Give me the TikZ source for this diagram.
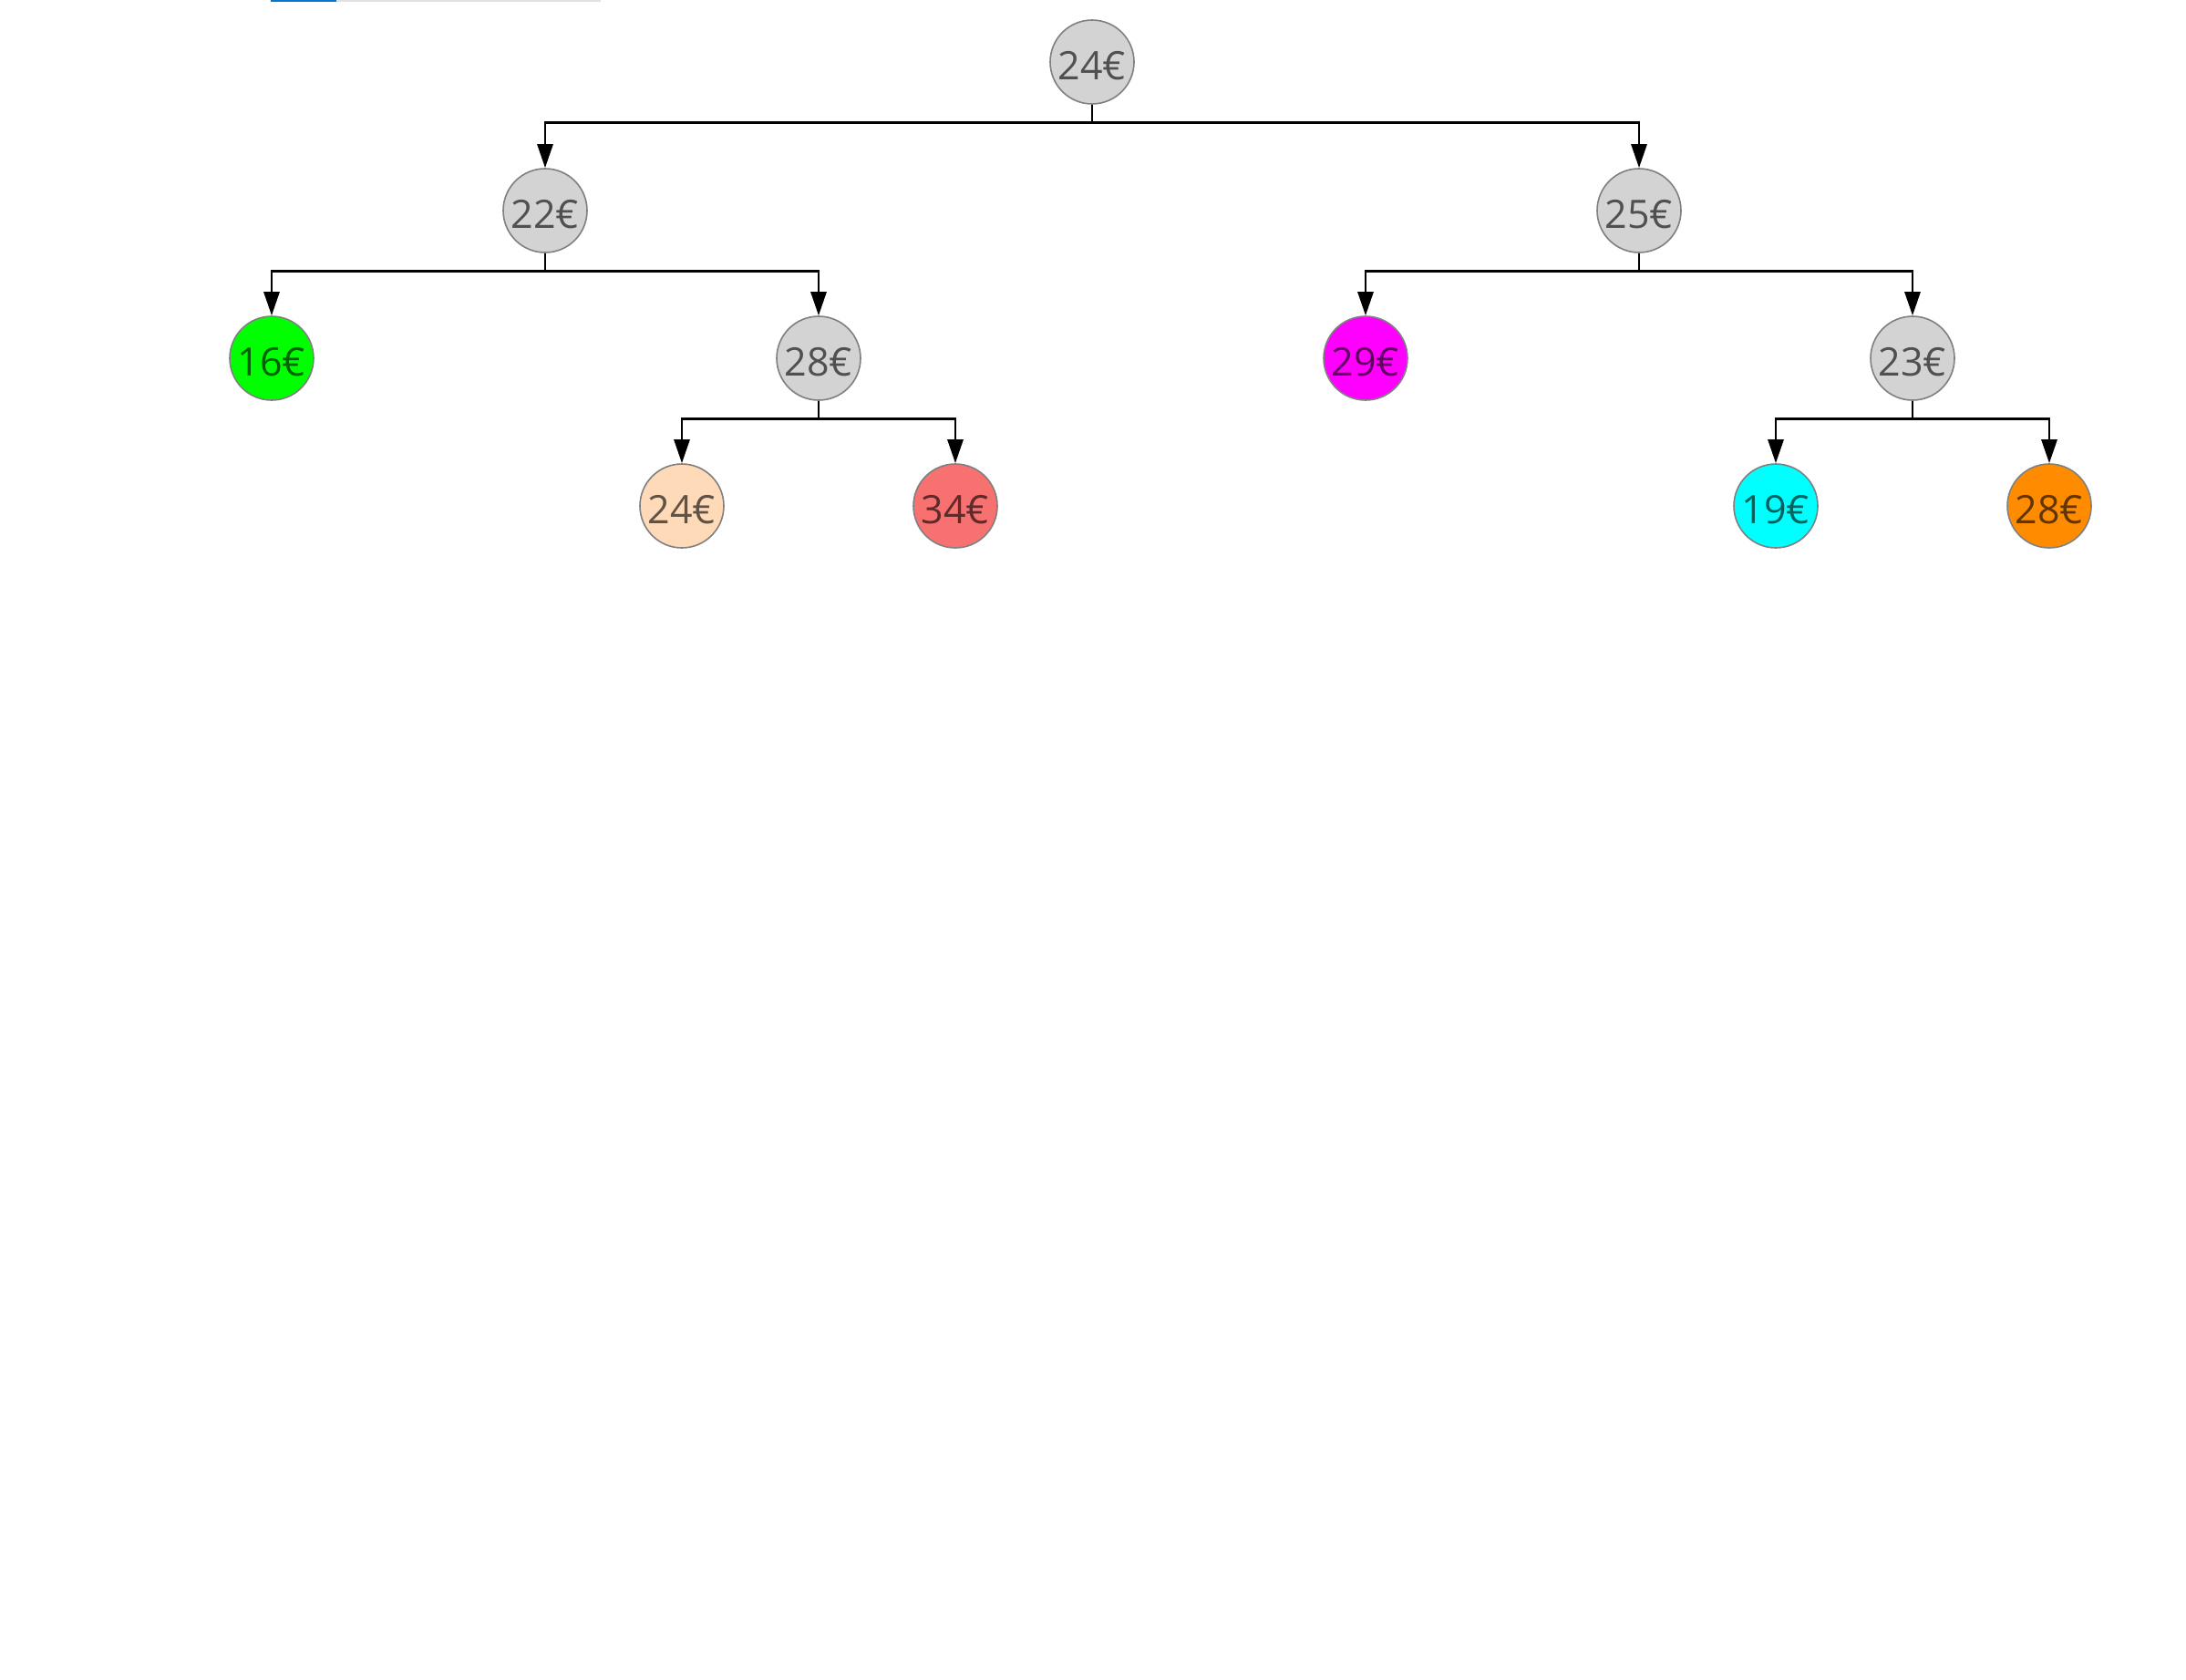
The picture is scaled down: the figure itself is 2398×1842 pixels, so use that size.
\documentclass[tikz,border=0pt]{standalone}
\usepackage{fontspec}
\setmainfont{Open Sans}
\usetikzlibrary{arrows.meta}
\definecolor{nodegray}{HTML}{D3D3D3}
\definecolor{edgegray}{HTML}{808080}
\definecolor{leafgreen}{HTML}{00FF00}
\definecolor{leafpeach}{HTML}{FFDAB9}
\definecolor{leafred}{HTML}{F87171}
\definecolor{leafmagenta}{HTML}{FF00FF}
\definecolor{leafcyan}{HTML}{00FFFF}
\definecolor{leaforange}{HTML}{FF8C00}
\definecolor{barblue}{HTML}{0078D4}
\definecolor{bargray}{HTML}{E1E1E1}
\tikzset{
  price/.style={circle, draw=edgegray, line width=0.8pt, fill=nodegray,
    minimum size=46pt, inner sep=0pt, text=black, text opacity=0.62,
    text height=19pt, text depth=0pt,
    font=\fontsize{21.5}{21.5}\selectfont},
  link/.style={line width=1.4pt, -{Triangle[length=13pt,width=8.5pt]}},
}
\begin{document}
\begin{tikzpicture}[x=0.5pt,y=-0.5pt]
\useasboundingbox (0,0) rectangle (2398,1842);
\fill[white] (0,0) rectangle (2398,1842);
% progress bar at the top edge
\fill[bargray] (369,0) rectangle (659,2);
\fill[barblue] (297,0) rectangle (369,2);

% tree nodes
\node[price] (r)   at (1198,68)  {24€};
\node[price] (a)   at (598,231)  {22€};
\node[price] (b)   at (1798,231) {25€};
\node[price, fill=leafgreen]   (a1) at (298,393)  {16€};
\node[price]                   (a2) at (898,393)  {28€};
\node[price, fill=leafmagenta] (b1) at (1498,393) {29€};
\node[price]                   (b2) at (2098,393) {23€};
\node[price, fill=leafpeach]   (a21) at (748,555)  {24€};
\node[price, fill=leafred]     (a22) at (1048,555) {34€};
\node[price, fill=leafcyan]    (b21) at (1948,555) {19€};
\node[price, fill=leaforange]  (b22) at (2248,555) {28€};

% connectors: down, across, down
\foreach \p/\c in {r/a, r/b, a/a1, a/a2, b/b1, b/b2, a2/a21, a2/a22, b2/b21, b2/b22}
  \draw[link] (\p.south) -- ++(0,20) -| (\c.north);
\end{tikzpicture}
\end{document}
